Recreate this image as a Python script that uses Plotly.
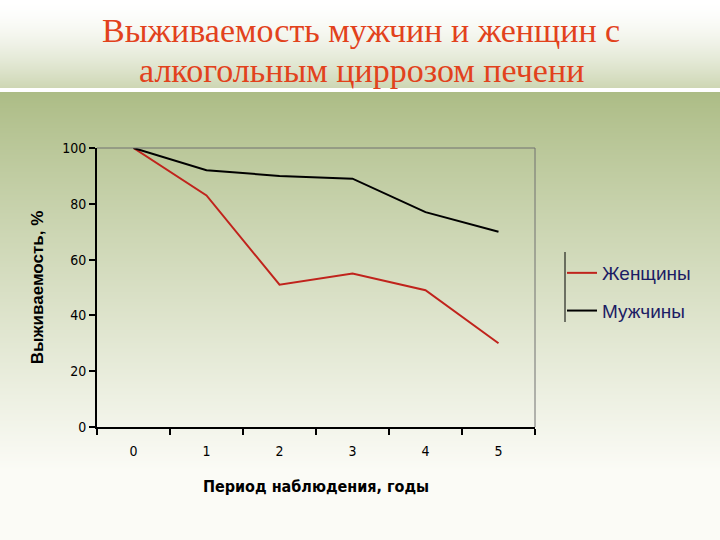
import base64, struct, zlib
import plotly.graph_objects as go

# ---- data ----
years = ["0", "1", "2", "3", "4", "5"]
women = [100, 83, 51, 55, 49, 30]
men = [100, 92, 90, 89, 77, 70]
series_names = ["Женщины", "Мужчины"]
title_lines = ["Выживаемость мужчин и женщин с", "алкогольным циррозом печени"]
x_title = "Период наблюдения, годы"
y_title = "Выживаемость, %"

W, H = 720, 540
L, R, T, B = 97, 535, 148, 427
PW, PH = R - L, B - T


def px_x(x):
    return (x - L) / PW


def px_y(y):
    return (B - y) / PH


# ---- background gradient as PNG data URI ----
def lerp(c1, c2, t):
    t = max(0.0, min(1.0, t))
    return tuple(int(round(a + (b - a) * t)) for a, b in zip(c1, c2))


rows = []
for y in range(H):
    if y < 88:
        t = (y / 88.0) ** 1.6
        c = lerp((255, 255, 255), (205, 214, 179), t)
    elif y < 92:
        c = (255, 255, 255)
    else:
        t = (y - 92) / (470 - 92)
        c = lerp((172, 188, 133), (251, 251, 246), t ** 0.9)
    rows.append(c)

imgw = 4
raw = b"".join(b"\x00" + bytes(c) * imgw for c in rows)


def chunk(tag, data):
    return struct.pack(">I", len(data)) + tag + data + struct.pack(">I", zlib.crc32(tag + data) & 0xffffffff)


png = b"\x89PNG\r\n\x1a\n" + chunk(b"IHDR", struct.pack(">IIBBBBB", imgw, H, 8, 2, 0, 0, 0)) \
    + chunk(b"IDAT", zlib.compress(raw, 9)) + chunk(b"IEND", b"")
uri = "data:image/png;base64," + base64.b64encode(png).decode()

fig = go.Figure()
fig.add_trace(go.Scatter(x=years, y=women, mode="lines", name=series_names[0],
                         line=dict(color="#c0231c", width=2), legendgroup="w"))
fig.add_trace(go.Scatter(x=years, y=men, mode="lines", name=series_names[1],
                         line=dict(color="#000000", width=2), legendgroup="m"))

fig.add_layout_image(dict(source=uri, xref="paper", yref="paper",
                          x=px_x(0), y=px_y(0), sizex=W / PW, sizey=H / PH,
                          xanchor="left", yanchor="top", sizing="stretch", layer="below"))

# plot-area top/right thin border
fig.add_shape(type="line", xref="paper", yref="paper", x0=0, x1=1, y0=1, y1=1,
              line=dict(color="#707070", width=1))
fig.add_shape(type="line", xref="paper", yref="paper", x0=1, x1=1, y0=0, y1=1,
              line=dict(color="#707070", width=1))
# legend left line
fig.add_shape(type="line", xref="paper", yref="paper", x0=px_x(565), x1=px_x(565),
              y0=px_y(252), y1=px_y(322), line=dict(color="#000000", width=1))

title_font = dict(family="Liberation Serif, DejaVu Serif, serif", size=34, color="#e2421c")
for txt, yc in zip(title_lines, [31, 70]):
    fig.add_annotation(text=txt, xref="paper", yref="paper", x=px_x(361), y=px_y(yc),
                       xanchor="center", yanchor="middle", showarrow=False, font=title_font)

tick_font = dict(family="DejaVu Sans Condensed, Liberation Sans Narrow, Liberation Sans, Arial",
                 size=14, color="#000000")

fig.update_xaxes(type="category", range=[-0.5, 5.5], tickson="boundaries",
                 ticks="outside", ticklen=6, tickwidth=2, tickcolor="#000000",
                 showline=True, linecolor="#000000", linewidth=2, showgrid=False,
                 zeroline=False, tickfont=tick_font, ticklabelstandoff=10,
                 title=dict(text="<b>" + x_title + "</b>", standoff=23,
                            font=dict(family="DejaVu Sans Condensed, Liberation Sans Narrow, Liberation Sans, Arial",
                                      size=16, color="#000000")))
fig.update_yaxes(range=[0, 100], dtick=20, ticks="outside", ticklen=6, tickwidth=2,
                 tickcolor="#000000", showline=True, linecolor="#000000", linewidth=2,
                 showgrid=False, zeroline=False, tickfont=tick_font,
                 title=dict(text="<b>" + y_title + "</b>", standoff=14,
                            font=dict(family="Liberation Sans, Arial", size=17, color="#000000")))

fig.update_layout(
    width=W, height=H,
    margin=dict(l=L, r=W - R, t=T, b=H - B, pad=0),
    paper_bgcolor="#ffffff", plot_bgcolor="rgba(0,0,0,0)",
    showlegend=True,
    legend=dict(x=px_x(562), y=px_y(254), xanchor="left", yanchor="top",
                bgcolor="rgba(0,0,0,0)", traceorder="grouped", tracegroupgap=10,
                itemwidth=30,
                font=dict(family="Liberation Sans, Arial", size=19, color="#1c1c64")),
)

fig.write_html("out.html")
